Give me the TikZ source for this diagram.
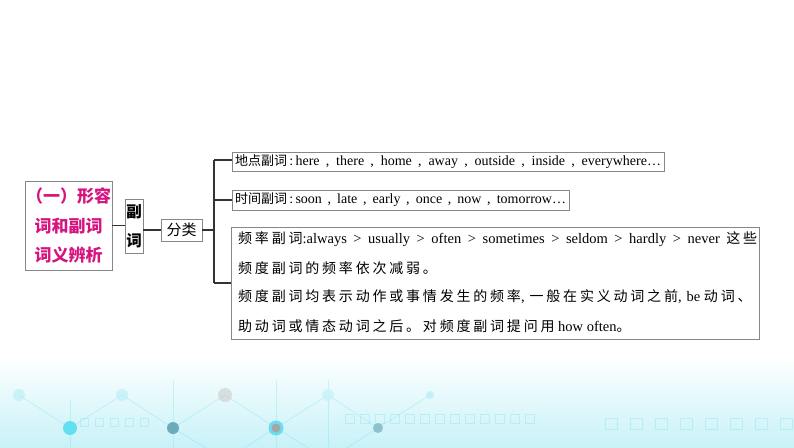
\documentclass[tikz,border=0pt]{standalone}
\usepackage{fontspec}
\setmainfont{Liberation Serif}
\newfontfamily\cjk{Noto Sans CJK SC}
\newfontfamily\cjksp[LetterSpace=20]{Noto Sans CJK SC}
\newcommand\zh[1]{{\cjk\fontsize{13}{15}\selectfont #1}}
\newcommand\zs[1]{{\cjksp\fontsize{14}{15}\selectfont #1}}
\definecolor{mag}{RGB}{214,20,128}
\definecolor{boxgray}{RGB}{135,135,135}
\definecolor{cyl}{RGB}{200,242,248}
\definecolor{cym}{RGB}{110,220,240}
\definecolor{cyd}{RGB}{70,150,170}
\begin{document}
\begin{tikzpicture}[x=1pt,y=-1pt,
  gbox/.style={draw=boxgray,line width=0.8pt,inner sep=0pt,outer sep=0pt},
  conn/.style={draw=black!80,line width=1.1pt},
  rtext/.style={gbox,anchor=north west,inner xsep=2pt,font=\fontsize{14}{16}\selectfont},
  ltext/.style={anchor=west,inner sep=0pt,font=\fontsize{14.5}{16}\selectfont}]
\useasboundingbox (0,0) rectangle (794,447);
% background decoration
\shade[top color=white,bottom color=cyl] (0,355) rectangle (794,447);
\begin{scope}[draw=cym,opacity=0.3,line width=0.8pt]
  \draw (70,428) -- (122,395) -- (173,428) -- (225,395) -- (276,428) -- (328,395) -- (378,428) -- (430,395);
  \draw (19,395) -- (70,428);
  \draw (173,428) -- (225,460); \draw (276,428) -- (225,460);
  \draw (276,428) -- (328,460); \draw (378,428) -- (328,460);
  \draw (173,380) -- (173,447); \draw (276,380) -- (276,447); \draw (328,380) -- (328,447);
  \draw (70,400) -- (70,447);
  \foreach \x in {345,360,375,...,525} { \draw (\x,414) rectangle +(9,9); }
  \foreach \x in {605,630,...,780} { \draw (\x,418) rectangle +(12,11); }
  \foreach \x in {80,95,...,140} { \draw (\x,418) rectangle +(8,8); }
\end{scope}
\fill[cyl!80!cym,opacity=0.6] (19,395) circle (6);
\fill[cyl!80!cym,opacity=0.6] (122,395) circle (6);
\fill[gray!40,opacity=0.6] (225,395) circle (7);
\fill[cyl,opacity=0.8] (328,395) circle (6);
\fill[cyl!70!cym,opacity=0.6] (430,395) circle (4);
\fill[cym!90!cyan] (70,428) circle (7);
\fill[cyd!80!white] (173,428) circle (6);
\fill[cym] (276,428) circle (7.5); \fill[gray!70] (276,428) circle (4.5);
\fill[cyd!60!white] (378,428) circle (5);
% main diagram
\node[gbox,anchor=north west,minimum width=87pt,minimum height=89pt,align=center,
  text=mag,font=\cjk\bfseries\fontsize{17}{29.5}\selectfont] (b1) at (25,181)
  {（一）形容\\词和副词\\词义辨析};
\node[gbox,anchor=north west,minimum width=18pt,minimum height=54pt,align=center,
  font=\cjk\bfseries\fontsize{15.5}{29}\selectfont] (b2) at (125,199) {副\\词};
\node[gbox,anchor=north west,minimum width=41pt,minimum height=22pt,
  font=\cjk\fontsize{15}{18}\selectfont] (b3) at (161,219) {分类};
\node[rtext,minimum width=432pt,minimum height=19pt] (r1) at (232,152)
  {\makebox[426pt][s]{\zh{地点副词}\,:\,here , there , home , away , outside , inside , everywhere…}};
\node[rtext,minimum width=337pt,minimum height=20pt] (r2) at (232,190)
  {\makebox[331pt][s]{\zh{时间副词}\,:\,soon , late , early , once , now , tomorrow…}};
\node[gbox,anchor=north west,minimum width=528pt,minimum height=112pt] (r4) at (231,227) {};
\node[ltext] (l1) at (238,239) {\makebox[519pt][s]{\zs{频率副词}:always > usually > often > sometimes > seldom > hardly > never \zs{这些}}};
\node[ltext] (l2) at (238,268) {\zs{频度副词的频率依次减弱。}};
\node[ltext] (l3) at (238,297) {\zs{频度副词均表示动作或事情发生的频率},\hspace{5pt}\zs{一般在实义动词之前},\hspace{5pt}be \zs{动词、}};
\node[ltext] (l4) at (238,326) {\zs{助动词或情态动词之后。对频度副词提问用} how often\zs{。}};
\coordinate (t1) at (214,160);
\coordinate (t2) at (214,200);
\coordinate (tm) at (214,230);
\coordinate (t4) at (214,283);
\draw[conn] (b1.east) -- (b1.east -| b2.west);
\draw[conn] (b2.east |- b3.west) -- (b3.west);
\draw[conn] (b3.east) -- (tm);
\draw[conn] (t1) -- (t4);
\draw[conn] (t1) -- (t1 -| r1.west);
\draw[conn] (t2) -- (t2 -| r2.west);
\draw[conn] (t4) -- (t4 -| r4.west);
\end{tikzpicture}
\end{document}
